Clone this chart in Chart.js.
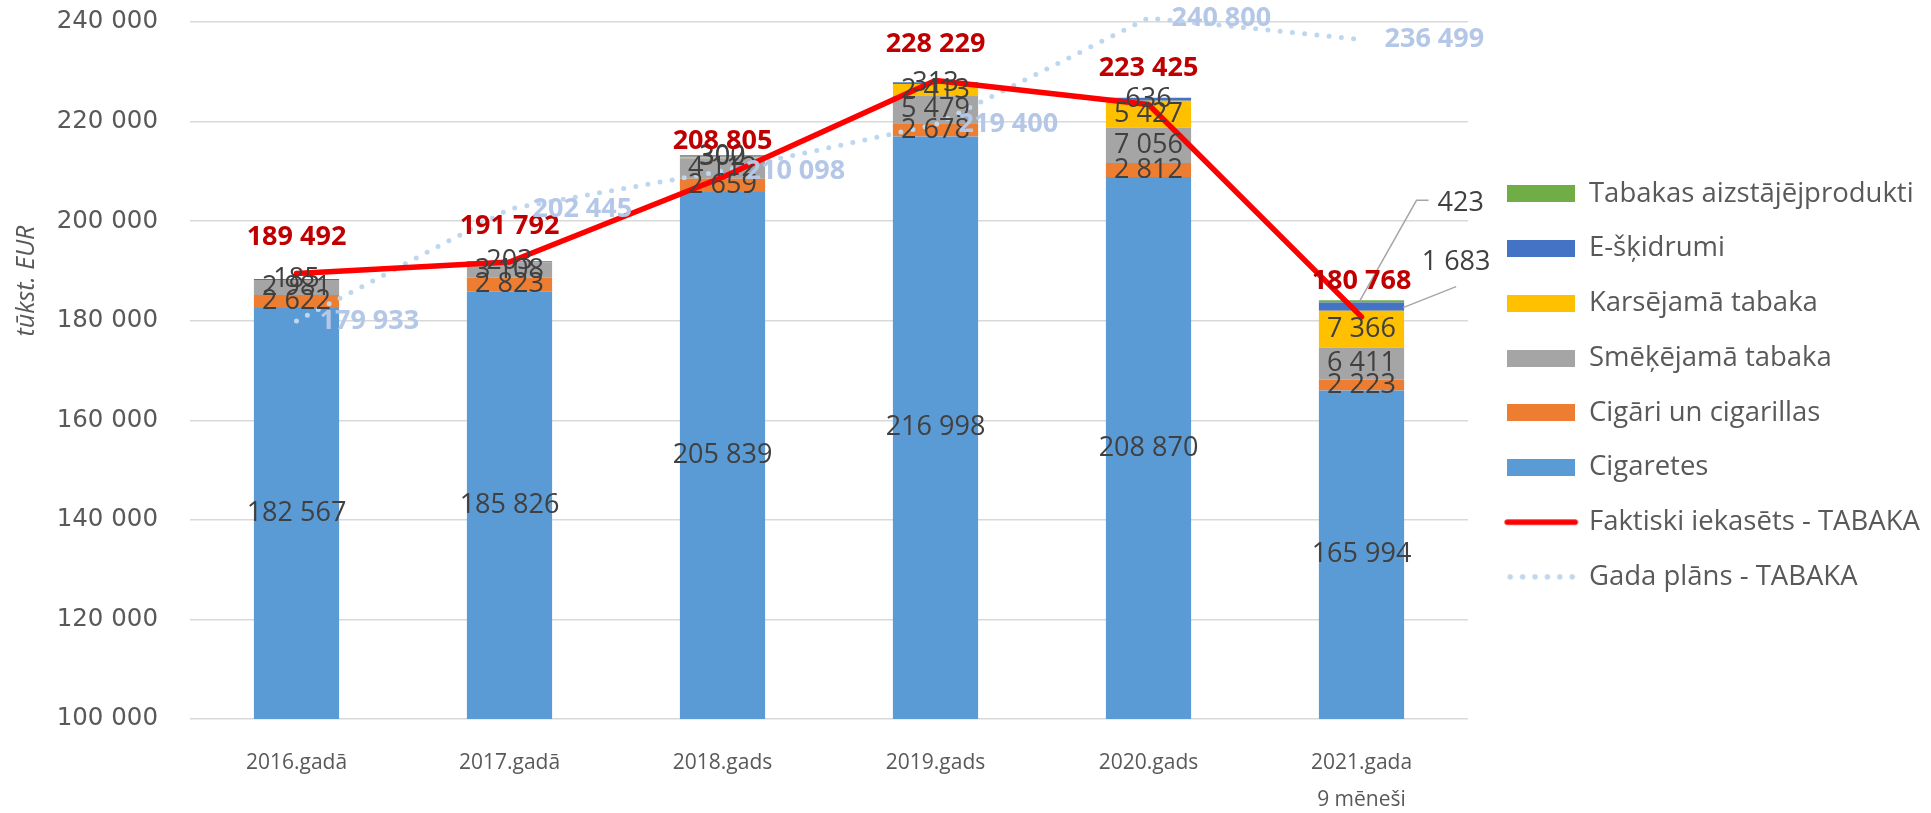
<!DOCTYPE html>
<html>
<head>
<meta charset="utf-8">
<script src="https://cdn.jsdelivr.net/npm/chart.js@4.4.1/dist/chart.umd.min.js"></script>
<style>
html,body{margin:0;padding:0;background:#ffffff;}
#wrap{width:1931px;height:813px;position:relative;}
</style>
</head>
<body>
<div id="wrap"><canvas id="c" width="1931" height="813"></canvas></div>
<script>
// ---- DATA ----
const categories = [['2016.gadā'], ['2017.gadā'], ['2018.gads'], ['2019.gads'], ['2020.gads'], ['2021.gada', '9 mēneši']];
const cigaretes   = [182567, 185826, 205839, 216998, 208870, 165994];
const cigari      = [2622, 2823, 2659, 2678, 2812, 2223];
const smekejama   = [2981, 3108, 4112, 5479, 7056, 6411];
const karsejama   = [null, null, 302, 2413, 5427, 7366];
const eskidrumi   = [185, 203, 300, 313, 636, 1683];
const aizstajeji  = [null, null, null, null, null, 423];
const faktiski    = [189492, 191792, 208805, 228229, 223425, 180768];
const gadaPlans   = [179933, 202445, 210098, 219400, 240800, 236499];
const yTickValues = [100000, 120000, 140000, 160000, 180000, 200000, 220000, 240000];
const seriesNames = ['Cigaretes', 'Cigāri un cigarillas', 'Smēķējamā tabaka', 'Karsējamā tabaka',
                     'E-šķidrumi', 'Tabakas aizstājējprodukti', 'Faktiski iekasēts - TABAKA', 'Gada plāns - TABAKA'];
const yTitle = 'tūkst. EUR';

// ---- STYLE ----
const barColors = ['#5B9BD5', '#ED7D31', '#A5A5A5', '#FFC000', '#4472C4', '#70AD47'];
const redColor = '#FF0000';
const planColor = '#BDD7EE';
const legendRank = [5, 4, 3, 2, 1, 0, 6, 7]; // position in legend for each dataset index
const FONT = "'Open Sans', 'Noto Sans', sans-serif";
const fmt = v => String(v).replace(/\B(?=(\d{3})+(?!\d))/g, ' ');

function hasFont(name) {
  const g = document.createElement('canvas').getContext('2d');
  const s = 'abcdefghijklmnop 0123456789 WMQ';
  g.font = '40px monospace';
  const a = g.measureText(s).width;
  g.font = '40px "' + name + '", monospace';
  const b = g.measureText(s).width;
  return Math.abs(a - b) > 0.5;
}
const NARROW = hasFont('Liberation Sans Narrow');
const xFont = NARROW ? { family: "'Liberation Sans Narrow', sans-serif", size: 25.5, lineHeight: 37 / 25.5 }
                     : { family: FONT, size: 21, lineHeight: 37 / 21 };
const titleFont = NARROW ? "italic 26px 'Liberation Sans Narrow', sans-serif" : 'italic 25px ' + FONT;

function swatch(kind, color) {
  const c = document.createElement('canvas');
  if (kind === 'rect') {
    c.width = 68; c.height = 17;
    const g = c.getContext('2d'); g.fillStyle = color; g.fillRect(0, 0, 68, 17);
  } else if (kind === 'line') {
    c.width = 76; c.height = 8;
    const g = c.getContext('2d'); g.strokeStyle = color; g.lineWidth = 5.5; g.lineCap = 'round';
    g.beginPath(); g.moveTo(4, 4); g.lineTo(72, 4); g.stroke();
  } else {
    c.width = 76; c.height = 8;
    const g = c.getContext('2d'); g.fillStyle = color;
    for (let k = 0; k < 6; k++) { g.beginPath(); g.arc(7 + k * 12.4, 4, 2.7, 0, Math.PI * 2); g.fill(); }
  }
  return c;
}

const barSeries = [cigaretes, cigari, smekejama, karsejama, eskidrumi, aizstajeji];
const datasets = barSeries.map((arr, i) => ({
  type: 'bar', label: seriesNames[i], data: arr, backgroundColor: barColors[i],
  borderWidth: 0, stack: 'bars', order: 1, barPercentage: 0.4, categoryPercentage: 1.0
}));
datasets.push({
  type: 'line', label: seriesNames[6], data: faktiski, borderColor: redColor, backgroundColor: redColor, stack: 'fakt',
  borderWidth: 5.5, pointRadius: 0, tension: 0, order: -2, clip: false, borderCapStyle: 'round', borderJoinStyle: 'round'
});
datasets.push({
  type: 'line', label: seriesNames[7], data: gadaPlans, borderColor: planColor, backgroundColor: planColor, stack: 'plan',
  borderWidth: 5, borderDash: [0, 12.3], borderCapStyle: 'round', pointRadius: 0, tension: 0, order: -1, clip: false
});

const swatches = barColors.map(c => swatch('rect', c)).concat([swatch('line', redColor), swatch('dots', planColor)]);

const overlay = {
  id: 'overlay',
  beforeLayout(chart) {
    const lg = chart.legend;
    if (lg && !lg._fixedFit) {
      const f = lg.fit;
      lg.fit = function () { f.call(this); this.width = 463; };
      lg._fixedFit = true;
    }
  },
  afterLayout(chart) {
    const lg = chart.legend;
    if (lg) { lg.left += 12; lg.top = 153; lg.bottom = 813; }
  },
  afterDatasetsDraw(chart) {
    const ctx = chart.ctx;
    const bottom = chart.chartArea.bottom;
    ctx.save();
    ctx.textAlign = 'center';
    ctx.textBaseline = 'middle';
    ctx.font = '27px ' + FONT;
    ctx.fillStyle = '#404040';
    for (let d = 0; d < 6; d++) {
      const meta = chart.getDatasetMeta(d);
      const data = chart.data.datasets[d].data;
      meta.data.forEach((el, i) => {
        const v = data[i];
        if (v == null) return;
        const yc = (el.y + Math.min(el.base, bottom)) / 2;
        if (i === 5 && d === 5) {
          const ax = el.x - 2, ay = el.y + 1;
          ctx.save();
          ctx.strokeStyle = '#A6A6A6'; ctx.lineWidth = 1.5;
          ctx.beginPath(); ctx.moveTo(ax, ay); ctx.lineTo(ax + 57, ay - 101); ctx.lineTo(ax + 69, ay - 101); ctx.stroke();
          ctx.textAlign = 'left';
          ctx.fillText(fmt(v), ax + 78, ay - 98);
          ctx.restore();
        } else if (i === 5 && d === 4) {
          const ax = el.x + el.width / 2 - 1, ay = yc + 1;
          ctx.save();
          ctx.strokeStyle = '#A6A6A6'; ctx.lineWidth = 1.5;
          ctx.beginPath(); ctx.moveTo(ax, ay); ctx.lineTo(ax + 53, ay - 21); ctx.stroke();
          ctx.fillText(fmt(v), ax + 53, ay - 45);
          ctx.restore();
        } else {
          ctx.fillText(fmt(v), el.x, yc);
        }
      });
    }
    // actual totals (red)
    ctx.font = 'bold 27px ' + FONT;
    ctx.fillStyle = '#C00000';
    chart.getDatasetMeta(6).data.forEach((p, i) => {
      ctx.fillText(fmt(faktiski[i]), p.x, p.y - 36);
    });
    // plan (light blue)
    ctx.fillStyle = '#B4C7E7';
    ctx.textAlign = 'left';
    chart.getDatasetMeta(7).data.forEach((p, i) => {
      ctx.fillText(fmt(gadaPlans[i]), p.x + 23, p.y);
    });
    // y title
    ctx.translate(27, 281);
    ctx.rotate(-Math.PI / 2);
    ctx.textAlign = 'center';
    ctx.font = titleFont;
    ctx.fillStyle = '#595959';
    ctx.fillText(yTitle, 0, 0);
    ctx.restore();
  }
};

new Chart(document.getElementById('c'), {
  data: { labels: categories, datasets: datasets },
  options: {
    responsive: false,
    animation: false,
    devicePixelRatio: 1,
    layout: { padding: { top: 0, left: 0, right: 0, bottom: 0 } },
    scales: {
      x: {
        stacked: true,
        grid: { display: false, drawTicks: false },
        border: { display: false },
        ticks: { color: '#595959', font: xFont, padding: 26, maxRotation: 0, autoSkip: false },
        afterFit(scale) { scale.height = 94; }
      },
      y: {
        stacked: true,
        min: 100000, max: 240000,
        grid: { color: '#D9D9D9', lineWidth: 1.5, drawTicks: false },
        border: { display: false },
        ticks: {
          color: '#595959', font: { family: "'DejaVu Sans', sans-serif", size: 24.5 }, padding: 32,
          callback: v => fmt(v)
        },
        afterBuildTicks(scale) { scale.ticks = yTickValues.map(v => ({ value: v })); },
        afterFit(scale) { scale.width = 190; scale.paddingTop = 22; scale.paddingBottom = 0; }
      }
    },
    plugins: {
      tooltip: { enabled: false },
      legend: {
        position: 'right',
        align: 'start',
        labels: {
          usePointStyle: true,
          pointStyleWidth: 68,
          padding: 27.2,
          color: '#595959',
          font: { family: FONT, size: 27.5 },
          sort: (a, b) => legendRank[a.datasetIndex] - legendRank[b.datasetIndex],
          generateLabels(chart) {
            const items = Chart.defaults.plugins.legend.labels.generateLabels(chart);
            items.forEach(it => { it.pointStyle = swatches[it.datasetIndex]; it.rotation = 0; it.fontColor = '#595959'; });
            return items;
          }
        }
      }
    }
  },
  plugins: [overlay]
});
</script>
</body>
</html>
